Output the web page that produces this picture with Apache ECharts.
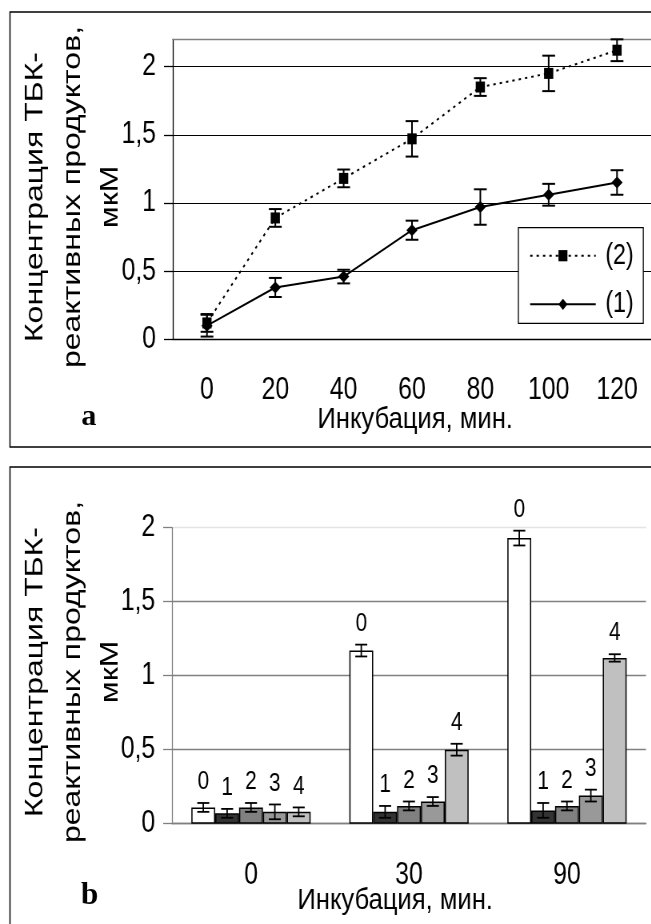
<!DOCTYPE html>
<html>
<head>
<meta charset="utf-8">
<script src="https://cdn.jsdelivr.net/npm/echarts@6/dist/echarts.min.js"></script>
<style>
  html, body { margin: 0; padding: 0; background: #fff; overflow: hidden; }
  #wrap { width: 651px; height: 924px; overflow: hidden; }
  /* the figure is laid out on a wider canvas and compressed horizontally */
  #chart { width: 814px; height: 924px; transform: scaleX(0.8); transform-origin: 0 0; }
</style>
</head>
<body>
<div id="wrap"><div id="chart"></div></div>
<script>
// ---- panel a: time course, мкМ ----
const timeCats = ['0', '20', '40', '60', '80', '100', '120'];
const curve2Mean = [0.12, 0.89, 1.18, 1.47, 1.85, 1.95, 2.12];
const curve2Err  = [0.065, 0.065, 0.065, 0.13, 0.065, 0.13, 0.08];
const curve1Mean = [0.10, 0.38, 0.46, 0.80, 0.97, 1.06, 1.15];
const curve1Err  = [0.08, 0.07, 0.05, 0.07, 0.13, 0.08, 0.09];
const curveNames = ['(2)', '(1)'];

// ---- panel b: groups 0..4 at three incubation times ----
const groupCats = ['0', '30', '90'];
const group0Mean = [0.11, 1.17, 1.93];
const group0Err  = [0.03, 0.04, 0.05];
const group1Mean = [0.07, 0.08, 0.09];
const group1Err  = [0.03, 0.04, 0.05];
const group2Mean = [0.11, 0.12, 0.12];
const group2Err  = [0.03, 0.03, 0.03];
const group3Mean = [0.08, 0.15, 0.19];
const group3Err  = [0.05, 0.03, 0.04];
const group4Mean = [0.08, 0.50, 1.12];
const group4Err  = [0.03, 0.04, 0.025];
const groupLabels = ['0', '1', '2', '3', '4'];
const groupColors = ['#ffffff', '#333333', '#808080', '#999999', '#c0c0c0'];

const yTicks = [0, 0.5, 1, 1.5, 2];

const SANS = "'Liberation Sans', Arial, sans-serif";
const SERIF = "'Liberation Serif', 'Times New Roman', serif";
const BAR_CAT_GAP = 0.245;

const groupMeans = [group0Mean, group1Mean, group2Mean, group3Mean, group4Mean];
const groupErrs = [group0Err, group1Err, group2Err, group3Err, group4Err];

const commaFmt = v => String(v).replace('.', ',');

function lineSeg(x1, y1, x2, y2, w) {
  return { type: 'line', shape: { x1, y1, x2, y2 }, style: { stroke: '#000', lineWidth: w } };
}

// error bar for the time-course points
function curveErrItem(params, api) {
  const i = api.value(0), v = api.value(1), e = api.value(2);
  const top = api.coord([i, v + e]);
  const bot = api.coord([i, v - e]);
  const hw = 8;
  return {
    type: 'group',
    children: [
      lineSeg(top[0], top[1], bot[0], bot[1], 2),
      lineSeg(top[0] - hw, top[1], top[0] + hw, top[1], 2),
      lineSeg(bot[0] - hw, bot[1], bot[0] + hw, bot[1], 2)
    ]
  };
}

// error bar + group number above each bar
function barErrItem(params, api) {
  const cat = api.value(0), v = api.value(1), e = api.value(2), k = api.value(3);
  const n = groupLabels.length;
  const band = api.size([1, 0])[0];
  const bw = band * (1 - BAR_CAT_GAP) / n;
  const c = api.coord([cat, v]);
  const x = c[0] + (k - (n - 1) / 2) * bw;
  const yT = api.coord([cat, v + e])[1];
  const yB = api.coord([cat, v - e])[1];
  const hw = 7.5;
  return {
    type: 'group',
    children: [
      lineSeg(x, yT, x, yB, 1.8),
      lineSeg(x - hw, yT, x + hw, yT, 1.8),
      lineSeg(x - hw, yB, x + hw, yB, 1.8),
      {
        type: 'text',
        style: {
          text: groupLabels[k], x: x, y: yT - 21,
          align: 'center', verticalAlign: 'middle',
          fontSize: 26, fontFamily: SANS, fill: '#000'
        }
      }
    ]
  };
}

const curveErrData = [];
curve2Mean.forEach((v, i) => curveErrData.push([i, v, curve2Err[i]]));
curve1Mean.forEach((v, i) => curveErrData.push([i, v, curve1Err[i]]));

const barErrData = [];
groupMeans.forEach((arr, k) => arr.forEach((v, c) => barErrData.push([c, v, groupErrs[k][c], k])));

const barSeries = groupMeans.map((arr, k) => ({
  type: 'bar',
  name: 'g' + k,
  xAxisIndex: 2, yAxisIndex: 1,
  data: arr,
  barGap: '0%',
  barCategoryGap: (BAR_CAT_GAP * 100) + '%',
  itemStyle: { color: groupColors[k], borderColor: '#000', borderWidth: 1.5 },
  z: 2
}));

function yTitle(x, y) {
  return {
    type: 'text', x: x, y: y, rotation: Math.PI / 2,
    style: {
      text: 'Концентрация ТБК-\nреактивных продуктов,\nмкМ',
      align: 'center', verticalAlign: 'middle',
      textAlign: 'center', textVerticalAlign: 'middle',
      fontSize: 32, lineHeight: 47, fontFamily: SANS, fill: '#000'
    }
  };
}
function plainText(txt, x, y, size, family, weight, sx) {
  return {
    type: 'text', x: x, y: y, scaleX: sx || 1,
    style: {
      text: txt, align: 'center', verticalAlign: 'middle',
      textAlign: 'center', textVerticalAlign: 'middle',
      fontSize: size, fontFamily: family, fontWeight: weight || 'normal', fill: '#000'
    }
  };
}

const option = {
  animation: false,
  backgroundColor: '#fff',
  graphic: [
    { type: 'rect', shape: { x: 12.5, y: 12, width: 900, height: 435 },
      style: { fill: 'none', stroke: '#000', lineWidth: 1.5 }, z: -1 },
    { type: 'rect', shape: { x: 12.5, y: 467, width: 900, height: 500 },
      style: { fill: 'none', stroke: '#000', lineWidth: 1.5 }, z: -1 },
    yTitle(91, 197),
    yTitle(91, 672),
    plainText('Инкубация, мин.', 519, 419.5, 30, SANS, 'normal', 1.066),
    plainText('Инкубация, мин.', 494, 900.5, 30, SANS, 'normal', 1.066),
    plainText('a', 111, 417, 30, SERIF, 'bold', 1.25),
    plainText('b', 112, 896, 31, SERIF, 'bold', 1.25)
  ],
  grid: [
    { left: 216, top: 39.3, width: 609, height: 300 },
    { left: 215, top: 527.7, width: 592.5, height: 296 }
  ],
  legend: {
    data: curveNames,
    orient: 'vertical',
    left: 648, top: 227.7,
    padding: [12, 12, 3, 13.7],
    itemWidth: 82, itemHeight: 14, itemGap: 16.6,
    backgroundColor: '#fff', borderColor: '#000', borderWidth: 1.3,
    textStyle: { fontSize: 29, lineHeight: 32, fontFamily: SANS, color: '#000', padding: [0, 0, 0, 7] }
  },
  xAxis: [
    {
      gridIndex: 0, type: 'category', data: timeCats, boundaryGap: true,
      axisLine: { lineStyle: { color: '#000', width: 1.3 } },
      axisTick: { length: 10, lineStyle: { color: '#000', width: 1.3 } },
      axisLabel: { margin: 36, fontSize: 31, fontFamily: SANS, color: '#000' },
      splitLine: { show: false }
    },
    {
      gridIndex: 0, type: 'category', data: timeCats, position: 'top',
      axisLine: { lineStyle: { color: '#808080', width: 1.3 } },
      axisTick: { show: false }, axisLabel: { show: false }, splitLine: { show: false }
    },
    {
      gridIndex: 1, type: 'category', data: groupCats, boundaryGap: true,
      axisLine: { lineStyle: { color: '#808080', width: 1.3 } },
      axisTick: { length: 10, lineStyle: { color: '#808080', width: 1.3 } },
      axisLabel: { margin: 36, fontSize: 31, fontFamily: SANS, color: '#000' },
      splitLine: { show: false }
    }
  ],
  yAxis: [
    {
      gridIndex: 0, type: 'value', min: 0, max: 2.2, interval: 0.5,
      axisLine: { show: true, lineStyle: { color: '#000', width: 1.3 } },
      axisTick: { show: true, length: 11, customValues: yTicks, lineStyle: { color: '#000', width: 1.3 } },
      axisLabel: { customValues: yTicks, formatter: commaFmt, margin: 21, fontSize: 31, fontFamily: SANS,
                   color: '#000', padding: [6, 0, 0, 0] },
      splitLine: { lineStyle: { color: '#000', width: 1.2 } }
    },
    {
      gridIndex: 1, type: 'value', min: 0, max: 2, interval: 0.5,
      axisLine: { show: true, lineStyle: { color: '#808080', width: 1.3 } },
      axisTick: { show: true, length: 11, lineStyle: { color: '#808080', width: 1.3 } },
      axisLabel: { formatter: commaFmt, margin: 21, fontSize: 31, fontFamily: SANS, color: '#000',
                   padding: [6, 0, 0, 0] },
      splitLine: { lineStyle: { color: ['#808080', '#808080', '#808080', '#808080', '#e4e4e4'], width: 1.3 } }
    }
  ],
  series: [
    {
      type: 'custom', name: 'curveErr', xAxisIndex: 0, yAxisIndex: 0,
      renderItem: curveErrItem, data: curveErrData, encode: { x: 0, y: 1 }, z: 3, silent: true
    },
    {
      type: 'line', name: curveNames[0], xAxisIndex: 0, yAxisIndex: 0,
      data: curve2Mean, symbol: 'rect', symbolSize: [11.5, 11],
      lineStyle: { color: '#000', width: 2, type: [3, 5] },
      itemStyle: { color: '#000' }, z: 4
    },
    {
      type: 'line', name: curveNames[1], xAxisIndex: 0, yAxisIndex: 0,
      data: curve1Mean, symbol: 'diamond', symbolSize: [14, 12],
      lineStyle: { color: '#000', width: 2 },
      itemStyle: { color: '#000' }, z: 4
    },
    ...barSeries,
    {
      type: 'custom', name: 'barErr', xAxisIndex: 2, yAxisIndex: 1,
      renderItem: barErrItem, data: barErrData, encode: { x: 0, y: 1 }, z: 5, silent: true
    }
  ]
};

const chart = echarts.init(document.getElementById('chart'), null, { renderer: 'canvas' });
chart.setOption(option);
</script>
</body>
</html>
